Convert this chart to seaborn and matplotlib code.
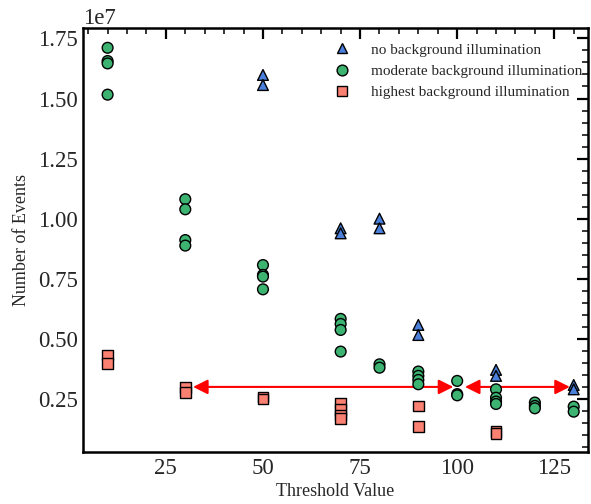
import numpy as np
import pandas as pd
import matplotlib
matplotlib.use("Agg")
import matplotlib.pyplot as plt
import seaborn as sns
from matplotlib.ticker import MultipleLocator

# ---- data (values in units of 1e7 events) ----
no_x = [50, 50, 70, 70, 80, 80, 90, 90, 110, 110, 130, 130]
no_y = [1.598, 1.556, 0.960, 0.939, 1.000, 0.960, 0.558, 0.516, 0.371, 0.346, 0.308, 0.290]

mod_x = [10, 10, 10, 10, 30, 30, 30, 30, 50, 50, 50, 50, 70, 70, 70, 70,
         80, 80, 90, 90, 90, 90, 100, 100, 100, 110, 110, 110, 110,
         120, 120, 120, 130, 130]
mod_y = [1.711, 1.656, 1.646, 1.516, 1.081, 1.039, 0.911, 0.888,
         0.807, 0.766, 0.759, 0.706, 0.583, 0.562, 0.537, 0.447,
         0.394, 0.380, 0.364, 0.346, 0.329, 0.311, 0.325, 0.270, 0.265,
         0.290, 0.255, 0.239, 0.229, 0.235, 0.221, 0.211, 0.218, 0.197]

high_x = [10, 10, 30, 30, 50, 50, 70, 70, 70, 70, 90, 90, 110, 110]
high_y = [0.433, 0.398, 0.297, 0.278, 0.258, 0.250, 0.232, 0.207, 0.183, 0.168,
          0.221, 0.135, 0.114, 0.107]

labels = ["no background illumination", "moderate background illumination",
          "highest background illumination"]
colors = ["#4a7fdb", "#3cb371", "#fa8072"]
markers = ["^", "o", "s"]

# arrows (x start, x end) at a level of 0.3e7
arrow_spans = [(32.0, 99.0), (102.0, 129.0)]
arrow_level = 0.30

df = pd.concat([
    pd.DataFrame({"x": no_x, "y": np.array(no_y) * 1e7, "cond": labels[0]}),
    pd.DataFrame({"x": mod_x, "y": np.array(mod_y) * 1e7, "cond": labels[1]}),
    pd.DataFrame({"x": high_x, "y": np.array(high_y) * 1e7, "cond": labels[2]}),
], ignore_index=True)

sns.set_style("white")
plt.rcParams["font.family"] = ["Liberation Serif", "DejaVu Serif"]
plt.rcParams["mathtext.fontset"] = "stix"

fig = plt.figure(figsize=(5.91, 5.04), dpi=100)
ax = fig.add_axes([0.141, 0.1026, 0.8534, 0.8412])

sns.scatterplot(data=df, x="x", y="y", hue="cond", style="cond",
                hue_order=labels, style_order=labels,
                palette=dict(zip(labels, colors)),
                markers=dict(zip(labels, markers)),
                s=60, edgecolor="black", linewidth=1.0, ax=ax, zorder=3)

for x0, x1 in arrow_spans:
    ax.annotate("", xy=(x1, arrow_level * 1e7), xytext=(x0, arrow_level * 1e7),
                arrowprops=dict(arrowstyle="<|-|>", color="red", lw=1.5,
                                mutation_scale=22, shrinkA=0, shrinkB=0),
                zorder=2)

ax.set_xlim(3.75, 133.6)
ax.set_ylim(0.028e7, 1.792e7)
ax.xaxis.set_major_locator(MultipleLocator(25))
ax.xaxis.set_minor_locator(MultipleLocator(5))
ax.yaxis.set_major_locator(MultipleLocator(0.25e7))
ax.yaxis.set_minor_locator(MultipleLocator(0.05e7))

for sp in ax.spines.values():
    sp.set_linewidth(1.8)
    sp.set_color("black")
ax.tick_params(which="both", direction="in", top=True, right=True, color="black")
ax.tick_params(which="major", length=8, width=1.6, labelsize=16.5, pad=4)
ax.tick_params(which="minor", length=4, width=1.1)
ax.yaxis.get_offset_text().set_fontsize(16.5)

ax.set_xlabel("Threshold Value", fontsize=13, labelpad=3)
ax.set_ylabel("Number of Events", fontsize=13, labelpad=6)

leg = ax.legend(loc="upper right", bbox_to_anchor=(1.018, 1.0), frameon=False,
                fontsize=11, handletextpad=0.9, borderaxespad=0.55,
                labelspacing=0.5, markerscale=1.0)

fig.savefig("out.png", dpi=100)
